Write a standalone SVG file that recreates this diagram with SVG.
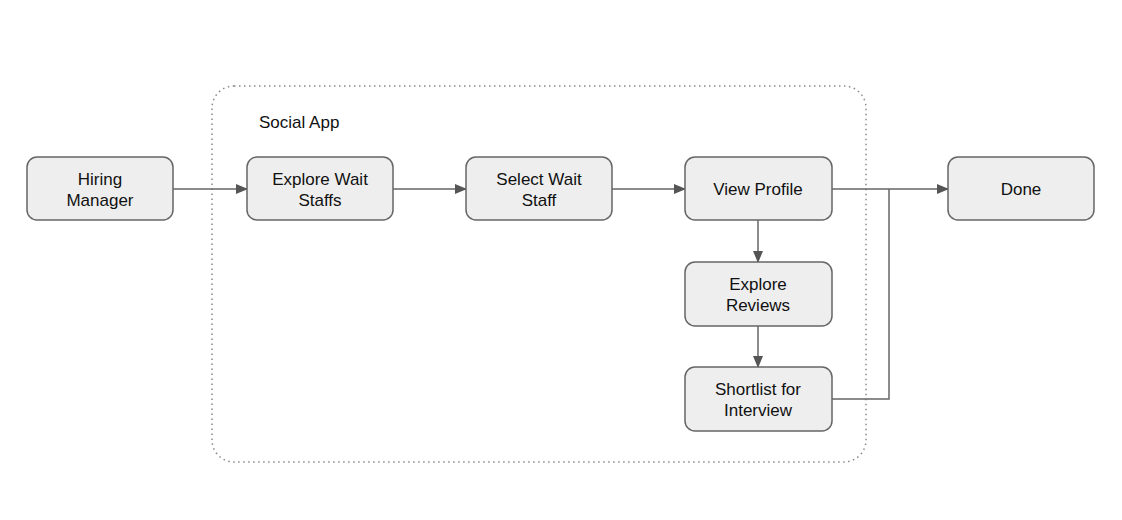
<svg xmlns="http://www.w3.org/2000/svg" width="1122" height="520" viewBox="0 0 1122 520">
<style>
.box{fill:#eeeeee;stroke:#666666;stroke-width:1.5}
.t{font-family:"Liberation Sans",Arial,sans-serif;font-size:17px;fill:#111111;text-anchor:middle}
.c{fill:none;stroke:#666666;stroke-width:1.5}
</style>
<defs>
<marker id="arr" markerWidth="12" markerHeight="10" refX="11" refY="5" orient="auto" markerUnits="userSpaceOnUse">
<path d="M0,0 L12,5 L0,10 Z" fill="#555555"/>
</marker>
</defs>
<rect width="1122" height="520" fill="#ffffff"/>
<g id="container">
<rect x="212" y="86" width="654" height="376" rx="22" fill="none" stroke="#888888" stroke-width="1.5" stroke-dasharray="1.5 3.5"/>
<text x="259" y="128" font-family="Liberation Sans,Arial,sans-serif" font-size="17" fill="#111111">Social App</text>
</g>
<g id="connectors">
<path class="c" d="M173,189 L247,189" marker-end="url(#arr)"/>
<path class="c" d="M393,189 L466,189" marker-end="url(#arr)"/>
<path class="c" d="M612,189 L685,189" marker-end="url(#arr)"/>
<path class="c" d="M832,189 L948,189" marker-end="url(#arr)"/>
<path class="c" d="M832,399 L889,399 L889,189"/>
<path class="c" d="M758,220 L758,262" marker-end="url(#arr)"/>
<path class="c" d="M758,326 L758,367" marker-end="url(#arr)"/>
</g>
<g id="hiring">
<rect class="box" x="27" y="157" width="146" height="63" rx="10"/>
<text class="t" x="100" y="185">Hiring</text>
<text class="t" x="100" y="206">Manager</text>
</g>
<g id="explore-wait">
<rect class="box" x="247" y="157" width="146" height="63" rx="10"/>
<text class="t" x="320" y="185">Explore Wait</text>
<text class="t" x="320" y="206">Staffs</text>
</g>
<g id="select-wait">
<rect class="box" x="466" y="157" width="146" height="63" rx="10"/>
<text class="t" x="539" y="185">Select Wait</text>
<text class="t" x="539" y="206">Staff</text>
</g>
<g id="view-profile">
<rect class="box" x="685" y="157" width="147" height="63" rx="10"/>
<text class="t" x="758" y="195">View Profile</text>
</g>
<g id="done">
<rect class="box" x="948" y="157" width="146" height="63" rx="10"/>
<text class="t" x="1021" y="195">Done</text>
</g>
<g id="explore-reviews">
<rect class="box" x="685" y="262" width="147" height="64" rx="10"/>
<text class="t" x="758" y="290">Explore</text>
<text class="t" x="758" y="311">Reviews</text>
</g>
<g id="shortlist">
<rect class="box" x="685" y="367" width="147" height="64" rx="10"/>
<text class="t" x="758" y="395">Shortlist for</text>
<text class="t" x="758" y="416">Interview</text>
</g>
</svg>
